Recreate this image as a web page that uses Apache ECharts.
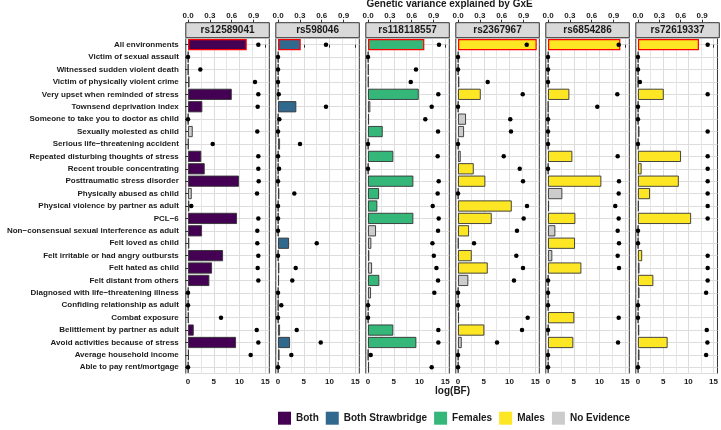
<!DOCTYPE html>
<html>
<head>
<meta charset="utf-8">
<script src="https://cdn.jsdelivr.net/npm/echarts@6/dist/echarts.min.js"></script>
<style>html,body{margin:0;padding:0;background:#fff}#c{width:721px;height:430px}</style>
</head>
<body>
<div id="c"></div>
<script>
const categories = [
  "All environments","Victim of sexual assault","Witnessed sudden violent death","Victim of physically violent crime",
  "Very upset when reminded of stress","Townsend deprivation index","Someone to take you to doctor as child",
  "Sexually molested as child","Serious life\u2212threatening accident","Repeated disturbing thoughts of stress",
  "Recent trouble concentrating","Posttraumatic stress disorder","Physically abused as child",
  "Physical violence by partner as adult","PCL\u22126","Non\u2212consensual sexual interference as adult",
  "Felt loved as child","Felt irritable or had angry outbursts","Felt hated as child","Felt distant from others",
  "Diagnosed with life\u2212threatening illness","Confiding relationship as adult","Combat exposure",
  "Belittlement by partner as adult","Avoid activities because of stress","Average household income",
  "Able to pay rent/mortgage"
];
const panelNames = ["rs12589041","rs598046","rs118118557","rs2367967","rs6854286","rs72619337"];
const legendNames = ["Both","Both Strawbridge","Females","Males","No Evidence"];
const groupCodes = {B:"Both",S:"Both Strawbridge",F:"Females",M:"Males",N:"No Evidence"};

// log(BF) per panel
const bf_rs12589041 = [11.40,0.05,0.05,0.3,8.49,2.78,0.05,0.91,0.1,2.58,3.24,9.90,0.72,0.25,9.51,2.72,0.25,6.80,4.66,4.14,0.05,0.05,0.1,1.11,9.32,0.15,0.05];
const bf_rs598046 = [4.41,0.05,0.05,0.05,0.05,3.55,0.05,0.05,0.39,0.05,0.05,0.05,0.25,0.05,0.05,0.05,2.14,0.05,0.25,0.2,0.05,0.05,0.05,0.39,2.33,0.3,0.05];
const bf_rs118118557 = [10.93,0.05,0.1,0.1,9.84,0.45,0.2,2.85,0.05,4.91,0.05,8.80,2.14,1.81,8.80,1.55,0.64,0.25,0.78,2.19,0.58,0.05,0.05,4.91,9.38,0.05,0.2];
const bf_rs2367967 = [15.28,0.05,0.05,0.25,4.41,0.05,1.55,1.17,0.05,0.52,3.05,5.30,0.05,10.43,6.54,2.14,0.1,2.66,5.77,2.0,0.05,0.05,0.2,5.11,0.72,0.05,0.05];
const bf_rs6854286 = [14.04,0.05,0.05,0.05,4.14,0.05,0.05,0.05,0.05,4.72,0.05,10.35,2.78,0.2,5.30,1.42,5.24,0.83,6.47,0.05,0.05,0.05,5.11,0.05,4.91,0.05,0.05];
const bf_rs72619337 = [12.10,0.05,0.05,0.05,5.11,0.05,0.05,0.3,0.05,8.54,0.72,8.10,2.39,0.15,10.54,0.05,0.05,0.83,0.3,3.05,0.3,0.05,0.05,0.25,5.88,0.3,0.05];

// genetic variance explained by GxE per panel
const gv_rs12589041 = [0.966,0,0.169,0.920,0.966,0.957,0,0.952,0.339,0.966,0.966,0.971,0.948,0.045,0.966,0.952,0.952,0.966,0.957,0.966,0,0,0.453,0.944,0.966,0.861,0];
const gv_rs598046 = [0.659,0,0,0,0.01,0.659,0.018,0,0.302,0,0.014,0,0.224,0,0,0,0.532,0,0.243,0.196,0,0.045,0,0.257,0.587,0.183,0];
const gv_rs118118557 = [0.975,0,0.659,0.587,0.966,0.875,0.787,0.962,0,0.957,0,0.971,0.957,0.889,0.971,0.962,0.885,0.904,0.940,0.962,0.911,0,0,0.966,0.966,0.037,0.875];
const gv_rs2367967 = [0.944,0,0,0.408,0.889,0,0.718,0.728,0,0.628,0.848,0.893,0,0.948,0.902,0.810,0.220,0.801,0.893,0.769,0,0,0.957,0.879,0.536,0,0];
const gv_rs6854286 = [0.971,0,0,0,0.952,0.677,0,0,0,0.957,0,0.975,0.971,0.924,0.971,0.957,0.975,0.957,0.975,0,0,0,0.971,0,0.962,0,0];
const gv_rs72619337 = [0.979,0,0,0.027,0.979,0,0,0.979,0,0.979,0.979,0.979,0.979,0.979,0.979,0,0,0.979,0.979,0.979,0.957,0,0,0.966,0.975,0.957,0];

// evidence group per bar
const grp_rs12589041 = "B N N N B B N N N B B B N N B B N B B B N N N B B N N".split(" ");
const grp_rs598046 = "S N N N N S N N N N N N N N N N S N N N N N N N S N N".split(" ");
const grp_rs118118557 = "F N N N F N N F N F N F F F F N N N N F N N N F F N N".split(" ");
const grp_rs2367967 = "M N N N M N N N N N M M N M M M N M M N N N N M N N N".split(" ");
const grp_rs6854286 = "M N N N M N N N N M N M N N M N M N M N N N M N M N N".split(" ");
const grp_rs72619337 = "M N N N M N N N N M M M M N M N N M N M N N N N M N N".split(" ");

const bottomTicks = [0,5,10,15];
const topTicks = [0,0.3,0.6,0.9];

const bfAll = [bf_rs12589041,bf_rs598046,bf_rs118118557,bf_rs2367967,bf_rs6854286,bf_rs72619337];
const gvAll = [gv_rs12589041,gv_rs598046,gv_rs118118557,gv_rs2367967,gv_rs6854286,gv_rs72619337];
const grpAll = [grp_rs12589041,grp_rs598046,grp_rs118118557,grp_rs2367967,grp_rs6854286,grp_rs72619337];

const colors = {"Both":"#440154","Both Strawbridge":"#31688E","Females":"#35B779","Males":"#FDE725","No Evidence":"#CCCCCC"};

const FONT = "'Liberation Sans', Arial, sans-serif";
const L0 = 185.8, PW = 83.5, PITCH = 90, TOP = 38.5, PH = 335;
const BFMIN = -0.43, BFMAX = 15.78, K = 14.13;
const STRIP_Y = 22.7, STRIP_H = 15;
const TXT = '#1a1a1a';

const grids = [], xAxes = [], yAxes = [], series = [], graphics = [];
panelNames.forEach((name, i) => {
  const left = L0 + i * PITCH;
  grids.push({left: left, top: TOP, width: PW, height: PH, show: true, borderColor: '#333', borderWidth: 1, backgroundColor: 'transparent'});
  xAxes.push({
    type: 'value', gridIndex: i, position: 'bottom', min: BFMIN, max: BFMAX, splitNumber: 4,
    axisLine: {show: false},
    axisTick: {show: true, length: 3, lineStyle: {color: '#333'}, customValues: bottomTicks},
    axisLabel: {customValues: bottomTicks, fontSize: 8, fontWeight: 'bold', color: TXT, fontFamily: FONT, margin: 4},
    splitLine: {show: true, lineStyle: {color: '#DDDDDD', width: 1}},
    minorTick: {show: false, splitNumber: 2},
    minorSplitLine: {show: true, lineStyle: {color: '#E6E6E6', width: 1}}
  });
  xAxes.push({
    type: 'value', gridIndex: i, position: 'top', offset: TOP - STRIP_Y, min: BFMIN / K, max: BFMAX / K, splitNumber: 4,
    axisLine: {show: false},
    axisTick: {show: true, length: 3, lineStyle: {color: '#333'}, customValues: topTicks},
    axisLabel: {customValues: topTicks, formatter: v => v.toFixed(1), fontSize: 8, fontWeight: 'bold', color: TXT, fontFamily: FONT, margin: 3},
    splitLine: {show: false}
  });
  yAxes.push({
    type: 'category', gridIndex: i, data: categories, inverse: true,
    axisLine: {show: false},
    axisTick: {show: i === 0, alignWithLabel: true, length: 3, lineStyle: {color: '#333'}},
    axisLabel: {show: i === 0, interval: 0, fontSize: 8, fontWeight: 'bold', color: TXT, fontFamily: FONT, margin: 7},
    splitLine: {show: false}
  });
  yAxes.push({
    type: 'value', gridIndex: i, min: -0.5, max: categories.length - 0.5, inverse: true, splitNumber: categories.length,
    axisLine: {show: false}, axisTick: {show: false}, axisLabel: {show: false},
    splitLine: {show: true, lineStyle: {color: '#DDDDDD', width: 1}}
  });
  series.push({
    type: 'bar', name: 'bf_' + name, xAxisIndex: 2 * i, yAxisIndex: 2 * i, barWidth: '90%', z: 3,
    data: bfAll[i].map((v, j) => ({
      value: v,
      itemStyle: {
        color: colors[groupCodes[grpAll[i][j]]],
        borderColor: j === 0 ? '#FF0000' : '#333333',
        borderWidth: j === 0 ? 1.2 : 0.9
      }
    }))
  });
  series.push({
    type: 'scatter', name: 'gv_' + name, xAxisIndex: 2 * i + 1, yAxisIndex: 2 * i, z: 4,
    symbolSize: 4.5, itemStyle: {color: '#000', opacity: 1},
    data: gvAll[i].map((v, j) => [v, j])
  });
  graphics.push({
    type: 'rect', shape: {x: left, y: STRIP_Y, width: PW, height: STRIP_H},
    style: {fill: '#D9D9D9', stroke: '#333', lineWidth: 1}, z: 10
  });
  graphics.push({
    type: 'text', x: left + PW / 2, y: STRIP_Y + STRIP_H / 2 + 0.5,
    style: {text: name, fill: TXT, font: 'bold 10px ' + FONT, textAlign: 'center', textVerticalAlign: 'middle'}, z: 11
  });
});

// legend-only series
legendNames.forEach(n => {
  series.push({type: 'scatter', name: n, xAxisIndex: 1, yAxisIndex: 0, data: [], itemStyle: {color: colors[n], opacity: 1}});
});

const centerX = L0 + (5 * PITCH + PW) / 2;
graphics.push({
  type: 'text', x: centerX - 3, y: -0.5,
  style: {text: 'Genetic variance explained by GxE', fill: TXT, font: 'bold 10px ' + FONT, textAlign: 'center', textVerticalAlign: 'top'}
});
graphics.push({
  type: 'text', x: centerX, y: 391,
  style: {text: 'log(BF)', fill: TXT, font: 'bold 10px ' + FONT, textAlign: 'center', textVerticalAlign: 'middle'}
});

const chart = echarts.init(document.getElementById('c'), null, {renderer: 'canvas'});
chart.setOption({
  animation: false,
  backgroundColor: '#fff',
  textStyle: {fontFamily: FONT},
  grid: grids,
  xAxis: xAxes,
  yAxis: yAxes,
  legend: {
    data: legendNames, left: 278, top: 411.7, padding: 0, icon: 'rect', itemWidth: 13, itemHeight: 13, itemGap: 7,
    selectedMode: false,
    textStyle: {fontSize: 10, fontWeight: 'bold', color: TXT, fontFamily: FONT}
  },
  graphic: graphics,
  series: series
});
</script>
</body>
</html>
